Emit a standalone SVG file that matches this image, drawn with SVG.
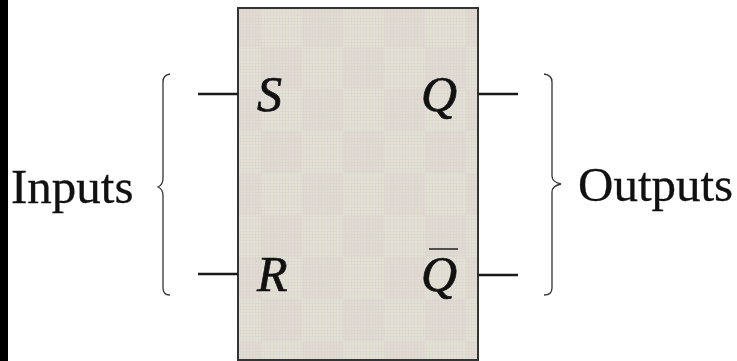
<svg xmlns="http://www.w3.org/2000/svg" width="737" height="361" viewBox="0 0 737 361">
<style>
.lbl{font-family:"Liberation Serif","Times New Roman",serif;fill:#111;stroke:#111;stroke-width:0.3;}
.pin{font-family:"Liberation Serif","Times New Roman",serif;font-style:italic;font-size:50px;fill:#111;stroke:#111;stroke-width:0.7;}
.wire{stroke:#1a1a1a;stroke-width:2.5;fill:none;}
.brace{stroke:#333;stroke-width:1.3;fill:none;}
</style>
<defs>
<pattern id="fine" x="0" y="0" width="3" height="3" patternUnits="userSpaceOnUse">
<rect width="3" height="3" fill="#dfe3d0"/>
<rect x="0" y="0" width="3" height="1" fill="#e0d8d4"/>
<rect x="0" y="0" width="1" height="3" fill="#e0d8d4"/>
</pattern>
<pattern id="check" x="261" y="47" width="82" height="84" patternUnits="userSpaceOnUse">
<rect x="0" y="0" width="41" height="42" fill="#d9b8c8" fill-opacity="0.14"/>
<rect x="41" y="42" width="41" height="42" fill="#d9b8c8" fill-opacity="0.14"/>
</pattern>
</defs>
<rect width="737" height="361" fill="#ffffff"/>
<rect x="0" y="0" width="8" height="361" fill="#000"/>
<g id="flipflop">
<rect x="238" y="8" width="240" height="352" fill="url(#fine)"/>
<rect x="238" y="8" width="240" height="352" fill="url(#check)" stroke="#333" stroke-width="2"/>
<text class="pin" x="257" y="111">S</text>
<text class="pin" x="421" y="111">Q</text>
<text class="pin" x="257" y="291">R</text>
<text class="pin" x="421" y="291">Q</text>
<line x1="429" y1="249" x2="458" y2="249" stroke="#222" stroke-width="1.5"/>
</g>
<g id="connectors">
<line class="wire" x1="198" y1="94" x2="238" y2="94"/>
<line class="wire" x1="198" y1="274" x2="238" y2="274"/>
<line class="wire" x1="478" y1="94" x2="518" y2="94"/>
<line class="wire" x1="478" y1="275" x2="518" y2="275"/>
</g>
<g id="inputs">
<path class="brace" d="M170,74 Q163,75 163,82 L163,178 Q163,185 158,187 Q163,189 163,196 L163,288 Q163,295 170,295"/>
<text class="lbl" x="11" y="203" font-size="49">Inputs</text>
</g>
<g id="outputs">
<path class="brace" d="M544,74 Q552,75 552,82 L552,176 Q552,182 561,184 Q552,186 552,192 L552,288 Q552,295 544,295"/>
<text class="lbl" x="578" y="201" font-size="49">Outputs</text>
</g>
</svg>
